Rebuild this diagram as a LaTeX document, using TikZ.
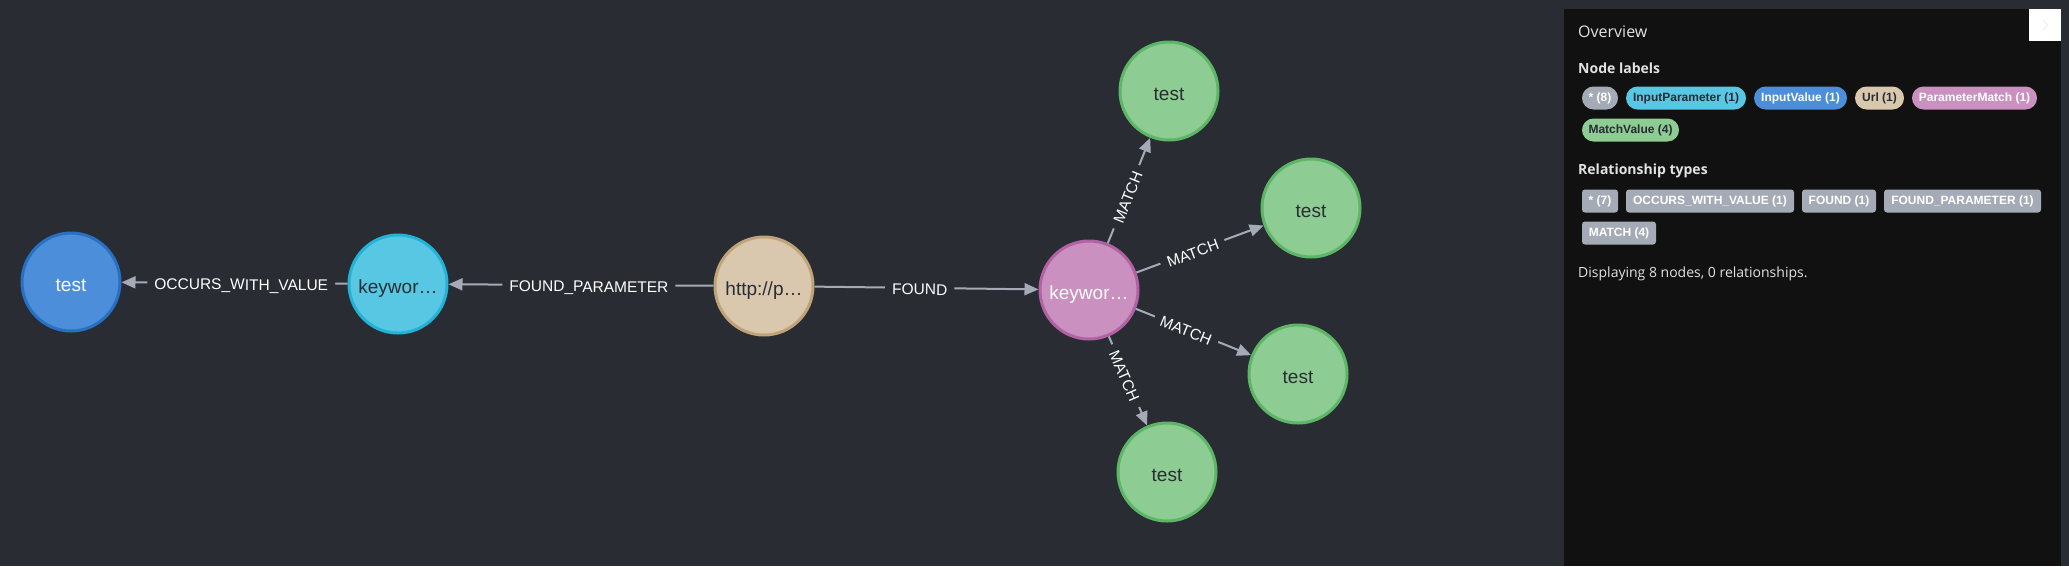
\documentclass[tikz,border=0pt]{standalone}
\usepackage{fontspec}
\setmainfont{Liberation Sans}
\newfontfamily\opensans{Open Sans}
\usetikzlibrary{arrows.meta}
\definecolor{bg}{HTML}{292C33}
\definecolor{panel}{HTML}{111111}
\definecolor{edgec}{HTML}{A5ABB6}
\definecolor{dark}{HTML}{2A2C34}
\definecolor{paneltext}{HTML}{E2E2E2}
\definecolor{cBlue}{HTML}{4C8EDA}\definecolor{bBlue}{HTML}{2870C2}
\definecolor{cCyan}{HTML}{57C7E3}\definecolor{bCyan}{HTML}{23B3D7}
\definecolor{cTan}{HTML}{D9C8AE}\definecolor{bTan}{HTML}{C0A378}
\definecolor{cPink}{HTML}{C990C0}\definecolor{bPink}{HTML}{B261A5}
\definecolor{cGreen}{HTML}{8DCC93}\definecolor{bGreen}{HTML}{5DB665}
\begin{document}
\begin{tikzpicture}[x=1pt,y=-1pt,
  gnode/.style={circle, line width=3pt, minimum size=98pt, inner sep=0pt,
    text height=18.6pt, text depth=0pt,
    font=\fontsize{19}{19}\selectfont},
  rel/.style={draw=edgec, line width=2pt, -{Triangle[length=14pt,width=12pt]}},
  elab/.style={sloped, fill=bg, text=white, inner xsep=7pt, inner ysep=0pt,
    text height=14pt, text depth=0pt,
    font=\fontsize{15.5}{15.5}\selectfont},
  lbl/.style={rounded corners=11.5pt, minimum height=23pt, inner sep=0pt,
    text height=7.4pt, text depth=0pt,
    font=\bfseries\fontsize{12}{12}\selectfont},
  rtype/.style={rounded corners=3pt, minimum height=23pt, inner sep=0pt, fill=edgec,
    text height=7.4pt, text depth=0pt,
    text=white, font=\bfseries\fontsize{12}{12}\selectfont},
  ptext/.style={anchor=west, inner sep=0pt, text=paneltext}
]
\useasboundingbox (0,0) rectangle (2069,566);
\fill[bg] (0,0) rectangle (2069,566);

% graph nodes
\node[gnode, fill=cBlue, draw=bBlue, text=white] (blue) at (71,282) {test};
\node[gnode, fill=cCyan, draw=bCyan, text=dark] (cyan) at (398,284) {keywor…};
\node[gnode, fill=cTan, draw=bTan, text=dark] (url) at (764,286) {http://p…};
\node[gnode, fill=cPink, draw=bPink, text=white] (pm) at (1089,290) {keywor…};
\node[gnode, fill=cGreen, draw=bGreen, text=dark] (g1) at (1169,91) {test};
\node[gnode, fill=cGreen, draw=bGreen, text=dark] (g2) at (1311,208) {test};
\node[gnode, fill=cGreen, draw=bGreen, text=dark] (g3) at (1298,374) {test};
\node[gnode, fill=cGreen, draw=bGreen, text=dark] (g4) at (1167,472) {test};

% relationships
\draw[rel] (cyan) -- node[elab, pos=0.47] {OCCURS\_WITH\_VALUE} (blue);
\draw[rel] (url) -- node[elab, pos=0.47] {FOUND\_PARAMETER} (cyan);
\draw[rel] (url) -- node[elab, pos=0.47] {FOUND} (pm);
\draw[rel] (pm) -- node[elab, pos=0.44] {MATCH} (g1);
\draw[rel] (pm) -- node[elab, pos=0.44] {MATCH} (g2);
\draw[rel] (pm) -- node[elab, pos=0.44] {MATCH} (g3);
\draw[rel] (pm) -- node[elab, pos=0.44] {MATCH} (g4);

% overview panel
\fill[panel] (1564,9) rectangle (2061,566);
\fill[white] (2029,9) rectangle (2061,41);
\draw[draw=white!93!black, line width=1pt] (2043,20) -- (2048,25) -- (2043,30);

\node[ptext, font=\opensans\fontsize{16}{16}\selectfont] (ov) at (1578,32) {Overview};
\node[ptext, font=\opensans\bfseries\fontsize{14}{14}\selectfont] (nl) at (1578,68) {Node labels};

\node[lbl, fill=edgec, text=white, minimum width=36] (l1) at (1600,98) {* (8)};
\node[lbl, fill=cCyan, text=dark, minimum width=120] (l2) at (1686,98) {InputParameter (1)};
\node[lbl, fill=cBlue, text=white, minimum width=93] (l3) at (1800.5,98) {InputValue (1)};
\node[lbl, fill=cTan, text=dark, minimum width=49] (l4) at (1879.5,98) {Url (1)};
\node[lbl, fill=cPink, text=white, minimum width=125] (l5) at (1974.5,98) {ParameterMatch (1)};
\node[lbl, fill=cGreen, text=dark, minimum width=97] (l6) at (1630.5,130) {MatchValue (4)};

\node[ptext, font=\opensans\bfseries\fontsize{14}{14}\selectfont] (rt) at (1578,171) {Relationship types};

\node[rtype, minimum width=36] (r1) at (1600,201) {* (7)};
\node[rtype, minimum width=168] (r2) at (1710,201) {OCCURS\_WITH\_VALUE (1)};
\node[rtype, minimum width=74] (r3) at (1839,201) {FOUND (1)};
\node[rtype, minimum width=157] (r4) at (1962.5,201) {FOUND\_PARAMETER (1)};
\node[rtype, minimum width=74] (r5) at (1619,233) {MATCH (4)};

\node[ptext, font=\opensans\fontsize{14}{14}\selectfont] (disp) at (1578,274) {Displaying 8 nodes, 0 relationships.};
\end{tikzpicture}
\end{document}
